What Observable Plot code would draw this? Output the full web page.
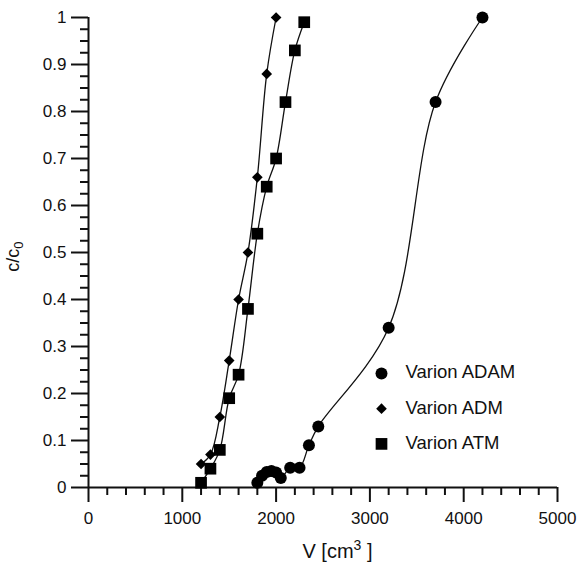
<!DOCTYPE html>
<html>
<head>
<meta charset="utf-8">
<script src="https://cdn.jsdelivr.net/npm/d3@7"></script>
<script src="https://cdn.jsdelivr.net/npm/@observablehq/plot@0.6"></script>
<style>
  html, body { margin: 0; padding: 0; background: #fff; }
</style>
</head>
<body>
<div id="chart"></div>
<script>
// Data
const adamV = [1800, 1850, 1900, 1950, 2000, 2050, 2150, 2250, 2350, 2450, 3200, 3700, 4200];
const adamC = [0.01, 0.025, 0.033, 0.035, 0.032, 0.02, 0.042, 0.042, 0.09, 0.13, 0.34, 0.82, 1.0];
const admV = [1200, 1300, 1400, 1500, 1600, 1700, 1800, 1900, 2000];
const admC = [0.05, 0.07, 0.15, 0.27, 0.40, 0.50, 0.66, 0.88, 1.0];
const atmV = [1200, 1300, 1400, 1500, 1600, 1700, 1800, 1900, 2000, 2100, 2200, 2300];
const atmC = [0.01, 0.04, 0.08, 0.19, 0.24, 0.38, 0.54, 0.64, 0.70, 0.82, 0.93, 0.99];

const seriesNames = ["Varion ADAM", "Varion ADM", "Varion ATM"];
const seriesSymbols = ["circle", "diamond2", "square"];
const seriesR = [6, 4.8, 6.6];

const xMajor = [0, 1000, 2000, 3000, 4000, 5000];
const yMajor = [0, 0.1, 0.2, 0.3, 0.4, 0.5, 0.6, 0.7, 0.8, 0.9, 1];

const xMinor = d3.range(0, 5001, 200).filter(v => v % 1000 !== 0);
const yMinor = d3.range(0, 41).map(i => i / 40).filter((v, i) => i % 4 !== 0);

const series = [
  adamV.map((v, i) => ({v, c: adamC[i], s: seriesNames[0]})),
  admV.map((v, i) => ({v, c: admC[i], s: seriesNames[1]})),
  atmV.map((v, i) => ({v, c: atmC[i], s: seriesNames[2]}))
];

const FONT = "'Liberation Sans', Arial, Helvetica, sans-serif";

const marks = [];
// axis lines
marks.push(Plot.ruleX([0], {y1: 0, y2: 1, stroke: "#111", strokeWidth: 2}));
marks.push(Plot.ruleY([0], {x1: 0, x2: 5000, stroke: "#111", strokeWidth: 2}));
// axes
marks.push(Plot.axisX({ticks: xMajor, tickSize: 15, tickPadding: 9, strokeWidth: 2, stroke: "#111", label: null, tickFormat: d => String(d)}));
marks.push(Plot.axisX({ticks: xMinor, tickSize: 8, strokeWidth: 2, stroke: "#111", text: null, label: null}));
marks.push(Plot.axisY({ticks: yMajor, tickSize: 17, tickPadding: 5, strokeWidth: 2, stroke: "#111", label: null, tickFormat: d => String(+d.toFixed(1))}));
marks.push(Plot.axisY({ticks: yMinor, tickSize: 8, strokeWidth: 2, stroke: "#111", text: null, label: null}));

series.forEach((data, k) => {
  marks.push(Plot.line(data, {x: "v", y: "c", curve: "catmull-rom", stroke: "#111", strokeWidth: 1.3}));
  marks.push(Plot.dot(data, {x: "v", y: "c", symbol: () => seriesSymbols[k], r: seriesR[k], fill: "#000", stroke: "none"}));
  // legend entries
  marks.push(Plot.dot([seriesNames[k]], {frameAnchor: "top-left", dx: 293, dy: 356 + k * 35.2, symbol: () => seriesSymbols[k], r: seriesR[k], fill: "#000", stroke: "none"}));
  marks.push(Plot.text([seriesNames[k]], {frameAnchor: "top-left", dx: 317, dy: 355 + k * 35.2, text: d => d, textAnchor: "start", lineAnchor: "middle", fontSize: 18.5, fill: "#111"}));
});

const plot = Plot.plot({
  width: 577,
  height: 562,
  marginLeft: 88,
  marginRight: 20,
  marginTop: 17,
  marginBottom: 75,
  style: {fontFamily: FONT, fontSize: "17px", color: "#111", background: "#fff"},
  x: {domain: [0, 5000]},
  y: {domain: [0, 1]},
  marks
});

document.getElementById("chart").appendChild(plot);

// Axis titles with sub/superscripts
const svg = d3.select(plot);
const xs = plot.scale("x"), ys = plot.scale("y");
const xt = svg.append("text")
  .attr("x", xs.apply(2500) + 15)
  .attr("y", 558)
  .attr("text-anchor", "middle")
  .attr("font-family", FONT)
  .attr("font-size", 20)
  .attr("fill", "#111");
xt.append("tspan").text("V [cm");
xt.append("tspan").attr("font-size", 14).attr("dy", -8).text("3");
xt.append("tspan").attr("dy", 8).text(" ]");

const yt = svg.append("text")
  .attr("transform", `translate(19,${ys.apply(0.49)}) rotate(-90)`)
  .attr("text-anchor", "middle")
  .attr("font-family", FONT)
  .attr("font-size", 18)
  .attr("fill", "#111");
yt.append("tspan").text("c/c");
yt.append("tspan").attr("font-size", 13).attr("dy", 4).text("0");
</script>
</body>
</html>
